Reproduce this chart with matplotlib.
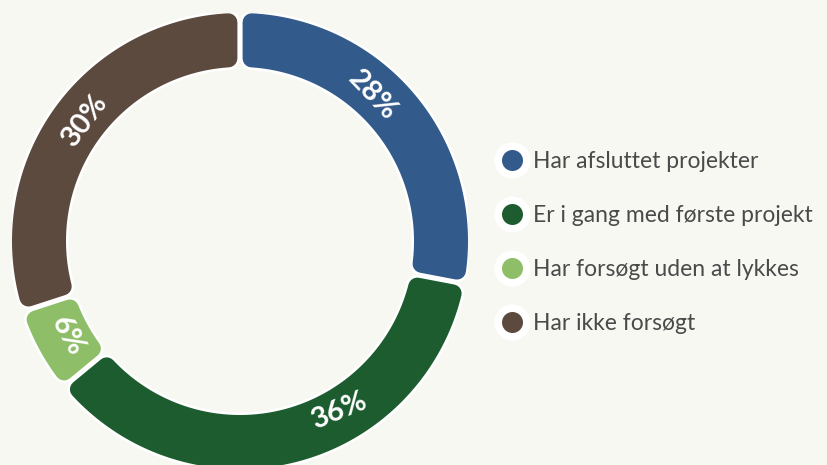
import numpy as np
import matplotlib
matplotlib.use("Agg")
import matplotlib.pyplot as plt
from matplotlib.patches import Polygon

categories = ["Har afsluttet projekter", "Er i gang med første projekt",
              "Har forsøgt uden at lykkes", "Har ikke forsøgt"]
values = [28, 36, 6, 30]
labels = ["28%", "36%", "6%", "30%"]
colors = ["#325A8A", "#1D5C2F", "#8FBE69", "#5C4A3F"]
BG = "#F8F8F3"

# label placement shift along the arc (degrees, style only)
label_shift = [8, 16, 0, -2]

W, H = 827, 465
fig = plt.figure(figsize=(W / 100, H / 100), dpi=100, facecolor=BG)

R_PX = 228
cx, cy = 240, 241
ax = fig.add_axes([(cx - R_PX) / W, (H - cy - R_PX) / H, 2 * R_PX / W, 2 * R_PX / H])
ax.set_xlim(-1, 1)
ax.set_ylim(-1, 1)
ax.set_aspect("equal")
ax.axis("off")
ax.set_facecolor(BG)

px = 1.0 / R_PX
r_out, r_in = 1.0, 174 / R_PX
corner = 9 * px
half_gap = 2.6 * px
pt_per_px = 0.72

total = float(sum(values))
start = 90.0
wedges = []
for v in values:
    sweep = v / total * 360.0
    wedges.append((start - sweep, start))
    start -= sweep

def wedge_poly(t1, t2):
    d = half_gap + corner
    ro, ri = r_out - corner, r_in + corner
    do = np.degrees(np.arcsin(d / ro))
    di = np.degrees(np.arcsin(d / ri))
    a_o = np.linspace(np.radians(t1 + do), np.radians(t2 - do), 120)
    a_i = np.linspace(np.radians(t2 - di), np.radians(t1 + di), 120)
    return np.concatenate([np.c_[ro * np.cos(a_o), ro * np.sin(a_o)],
                           np.c_[ri * np.cos(a_i), ri * np.sin(a_i)]])

lw_col = 2 * corner * R_PX * pt_per_px
lw_white = lw_col + 2 * half_gap * R_PX * pt_per_px
for (t1, t2) in wedges:
    ax.add_patch(Polygon(wedge_poly(t1, t2), closed=True, facecolor="white",
                         edgecolor="white", lw=lw_white, joinstyle="round", zorder=1))
for (t1, t2), c in zip(wedges, colors):
    ax.add_patch(Polygon(wedge_poly(t1, t2), closed=True, facecolor=c,
                         edgecolor=c, lw=lw_col, joinstyle="round", zorder=2))

r_mid = (r_out + r_in) / 2 - 4 * px
for (t1, t2), lab, sh in zip(wedges, labels, label_shift):
    m = (t1 + t2) / 2
    pos = np.radians(m + sh)
    ra = m + sh / 2
    rot = ra - 90 if np.sin(np.radians(ra)) >= 0 else ra + 90
    ax.text(r_mid * np.cos(pos), r_mid * np.sin(pos), lab, color="white",
            fontsize=21, fontweight="bold", family=["Lato", "DejaVu Sans"],
            rotation=rot, rotation_mode="anchor", ha="center", va="center",
            zorder=5)

lax = fig.add_axes([0, 0, 1, 1], facecolor="none")
lax.set_xlim(0, W)
lax.set_ylim(H, 0)
lax.axis("off")
ys = [160, 214, 268, 322]
for y, c, cat in zip(ys, colors, categories):
    lax.scatter([512], [y], s=(36 * pt_per_px) ** 2, color="white", zorder=3, linewidths=0)
    lax.scatter([512], [y], s=(21 * pt_per_px) ** 2, color=c, zorder=4, linewidths=0)
    lax.text(533, y + 1, cat, color="#4A4A4A", fontsize=16.5, va="center", ha="left",
             family=["Lato", "DejaVu Sans"])

fig.savefig("out.png", dpi=100, facecolor=BG)
